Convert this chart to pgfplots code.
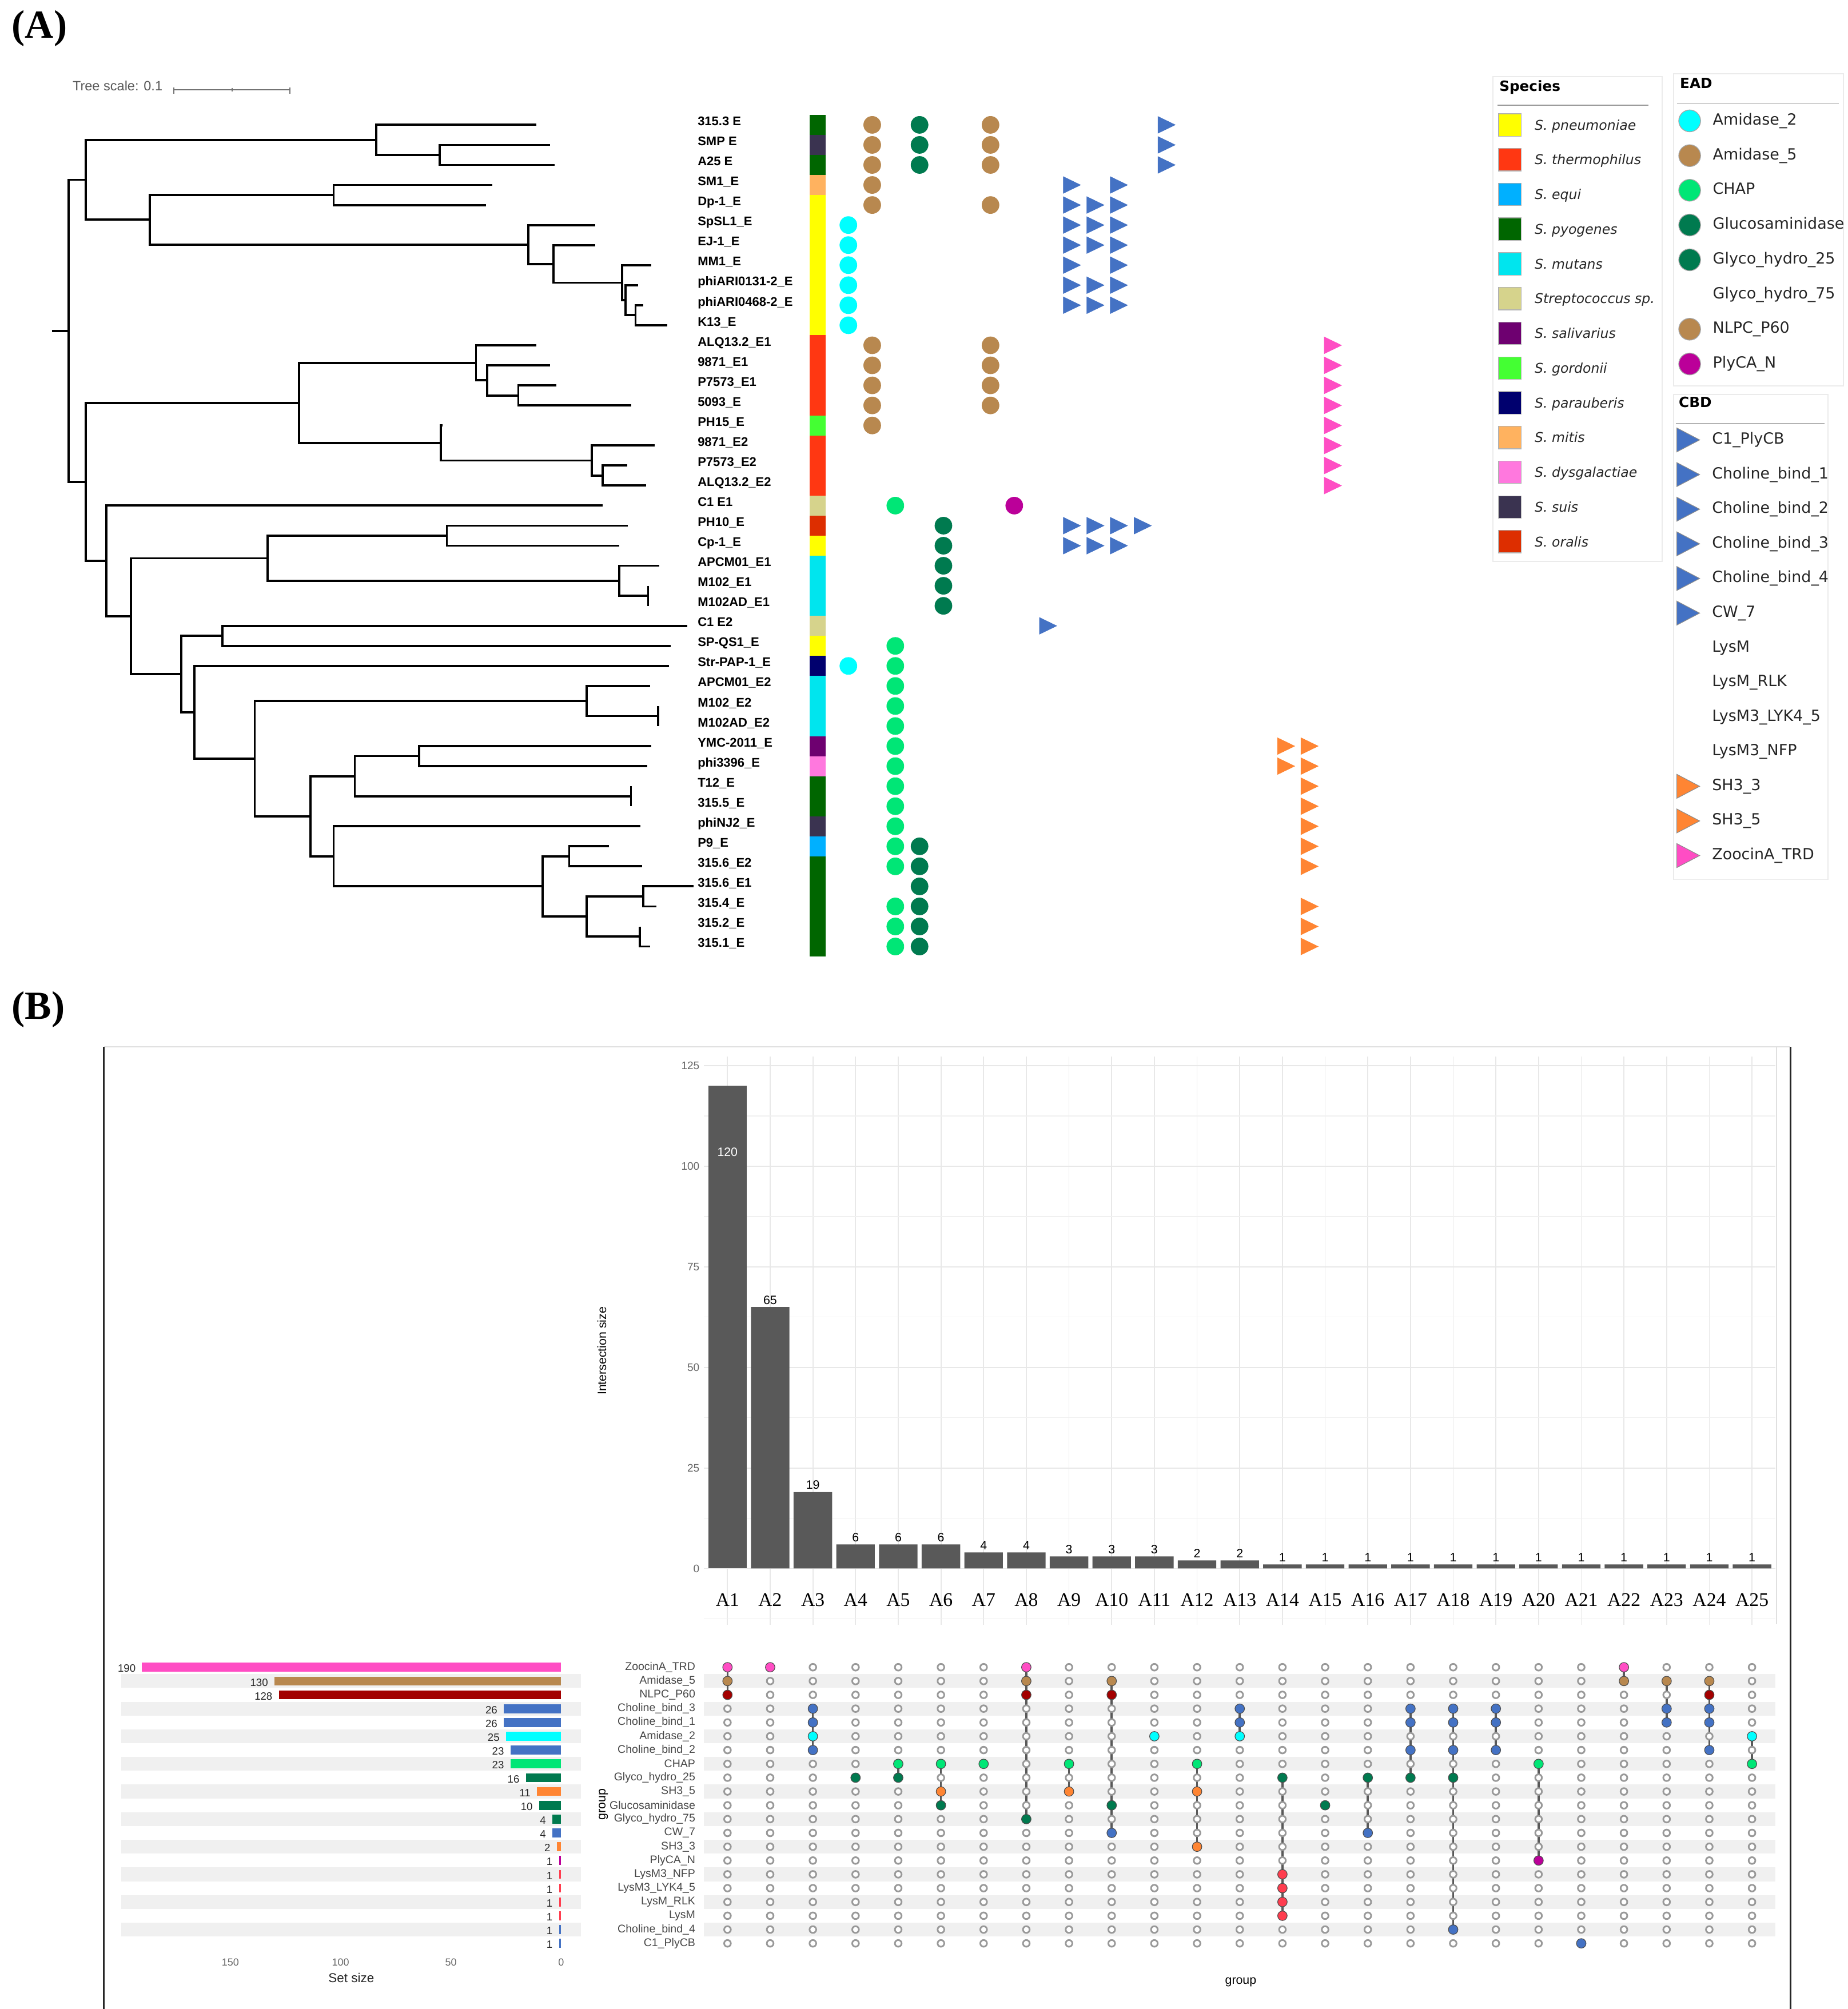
\documentclass[border=0pt]{standalone}
\usepackage{fontspec}
\setmainfont{Liberation Sans}
\newfontfamily\tnr{Liberation Serif}
\newfontfamily\djv{DejaVu Sans}
\usepackage{pgfplots}
\pgfplotsset{compat=1.18}

% species colours
\definecolor{spPyo}{HTML}{006600}
\definecolor{spSuis}{HTML}{3A3350}
\definecolor{spMitis}{HTML}{FFB25F}
\definecolor{spPneu}{HTML}{FFFF00}
\definecolor{spTherm}{HTML}{FF3712}
\definecolor{spGord}{HTML}{44FF33}
\definecolor{spStrep}{HTML}{D6D38C}
\definecolor{spOral}{HTML}{DD2E00}
\definecolor{spMut}{HTML}{00E5EE}
\definecolor{spPara}{HTML}{00006E}
\definecolor{spSal}{HTML}{6E0070}
\definecolor{spDys}{HTML}{FF78DE}
\definecolor{spEqui}{HTML}{00B0FF}
% domain colours
\definecolor{dAmi2}{HTML}{00FFFF}
\definecolor{dAmi5}{HTML}{B8884F}
\definecolor{dChap}{HTML}{00E676}
\definecolor{dGlu}{HTML}{007A4F}
\definecolor{dNlpc}{HTML}{A30000}
\definecolor{dPly}{HTML}{BB0099}
\definecolor{dBlue}{HTML}{4472C4}
\definecolor{dSh3}{HTML}{FF8533}
\definecolor{dZoo}{HTML}{FF4DC4}
\definecolor{dLys}{HTML}{FF3D4F}
\definecolor{barGray}{HTML}{595959}

\newcommand\cell[3]{\addplot[fill=#3, draw=none] coordinates {(631,#1) (643.5,#1) (643.5,#2) (631,#2)} -- cycle;}
\newcommand\sq[2]{\addplot[only marks, mark=square*, mark size=8.75pt, mark options={fill=#2, draw=black!30, line width=0.6pt}] coordinates {(1176.8,#1)};}
\newcommand\ci[2]{\addplot[only marks, mark=*, mark size=8.5pt, mark options={fill=#2, draw=black!35, line width=0.6pt}] coordinates {(1316.9,#1)};}
\newcommand\tr[2]{\addplot[only marks, mark=triangle*, mark size=10.8pt, mark options={fill=#2, draw=black!45, line width=0.5pt, xscale=1.1, rotate=-90}] coordinates {(1312.8,#1)};}
\newcommand\stripe[3]{\addplot[fill=black!6, draw=none] coordinates {(#1,#3) (#2,#3) (#2,#3+1) (#1,#3+1)} -- cycle;}
\newcommand\fd[2]{\addplot[only marks, mark=*, mark size=3.7pt, mark options={fill=#1, draw=black!70, line width=0.5pt}] coordinates {#2};}
\newcommand\sbar[3]{\addplot[xbar, bar width=7pt, bar shift=0pt, fill=#3, draw=none, nodes near coords,
  nodes near coords style={anchor=east, font=\fontsize{8.3}{9}\selectfont, text=black!85, xshift=-1.5pt, yshift=-1pt}] coordinates {(#2,#1)};}

\begin{document}
\begin{tikzpicture}[x=1pt,y=1pt]
\path[use as bounding box] (0,0) rectangle (1440,-1566);

% ---------------- panel A ----------------
\node[anchor=west, inner sep=0pt] at (9,-22) {\tnr\bfseries\fontsize{31}{31}\selectfont (A)};
\node[anchor=west, inner sep=0pt, text=black!65] at (56.4,-66.8) {\fontsize{10.5}{11}\selectfont Tree scale: 0.1};
\draw[black!55, line width=0.8pt] (135.5,-70) -- (226,-70);
\draw[black!55, line width=0.8pt] (135.5,-68) -- (135.5,-73) (226,-68) -- (226,-73) (181,-68.5) -- (181,-71.5);

\begin{axis}[at={(0pt,-81.7pt)}, anchor=north west, scale only axis,
  width=1160pt, height=671.7pt, xmin=0, xmax=1160, ymin=0, ymax=43, y dir=reverse,
  hide axis, clip=false]
% tree
\addplot[black, line width=1.7pt, unbounded coords=jump, line join=miter, mark=none] coordinates {
(428.7,2)(342.8,2)(342.8,3)(432.2,3)(nan,nan)
(418.1,1)(293.4,1)(293.4,2.5)(342.8,2.5)(nan,nan)
(383.6,4)(260,4)(260,5)(378.9,5)(nan,nan)
(501.2,10)(495.3,10)(495.3,11)(520,11)(nan,nan)
(497.3,9)(487.5,9)(487.5,10.5)(495.3,10.5)(nan,nan)
(507.5,8)(484.7,8)(484.7,9.75)(487.5,9.75)(nan,nan)
(464,7)(431.4,7)(431.4,8.875)(484.7,8.875)(nan,nan)
(464,6)(411.8,6)(411.8,7.94)(431.4,7.94)(nan,nan)
(260,4.5)(116.9,4.5)(116.9,6.97)(411.8,6.97)(nan,nan)
(293.4,1.75)(66.7,1.75)(66.7,5.73)(116.9,5.73)(nan,nan)
(433.8,14)(404,14)(404,15)(491.8,15)(nan,nan)
(428.7,13)(379.6,13)(379.6,14.5)(404,14.5)(nan,nan)
(418.1,12)(371,12)(371,13.75)(379.6,13.75)(nan,nan)
(488.7,18)(469.8,18)(469.8,19)(503.6,19)(nan,nan)
(510.2,17)(461.2,17)(461.2,18.5)(469.8,18.5)(nan,nan)
(345.1,16)(343.6,16)(343.6,17.75)(461.2,17.75)(nan,nan)
(371,12.875)(233,12.875)(233,16.875)(343.6,16.875)(nan,nan)
(489.4,21)(348.3,21)(348.3,22)(482.8,22)(nan,nan)
(505.1,24)(505.1,25)(nan,nan)
(513.8,23)(482.8,23)(482.8,24.5)(505.1,24.5)(nan,nan)
(348.3,21.5)(208.7,21.5)(208.7,23.75)(482.8,23.75)(nan,nan)
(535.7,26)(173.4,26)(173.4,27)(522.8,27)(nan,nan)
(513,30)(513,31)(nan,nan)
(506.7,29)(457.3,29)(457.3,30.5)(513,30.5)(nan,nan)
(507.5,32)(326.7,32)(326.7,33)(504.3,33)(nan,nan)
(491.8,34)(491.8,35)(nan,nan)
(326.7,32.5)(276.5,32.5)(276.5,34.5)(491.8,34.5)(nan,nan)
(474.5,37)(443.6,37)(443.6,38)(500.4,38)(nan,nan)
(540.4,39)(501.2,39)(501.2,40)(511.4,40)(nan,nan)
(498.5,41)(498.5,42)(506.7,42)(nan,nan)
(501.2,39.5)(457.3,39.5)(457.3,41.5)(498.5,41.5)(nan,nan)
(443.6,37.5)(422.8,37.5)(422.8,40.5)(457.3,40.5)(nan,nan)
(499.2,36)(260,36)(260,39)(422.8,39)(nan,nan)
(276.5,33.5)(242,33.5)(242,37.5)(260,37.5)(nan,nan)
(457.3,29.75)(198.5,29.75)(198.5,35.5)(242,35.5)(nan,nan)
(521.6,28)(151.4,28)(151.4,32.625)(198.5,32.625)(nan,nan)
(173.4,26.5)(141.2,26.5)(141.2,30.31)(151.4,30.31)(nan,nan)
(208.7,22.625)(102,22.625)(102,28.41)(141.2,28.41)(nan,nan)
(469.8,20)(82.8,20)(82.8,25.52)(102,25.52)(nan,nan)
(233,14.875)(66.7,14.875)(66.7,22.76)(82.8,22.76)(nan,nan)
(66.7,3.74)(53.4,3.74)(53.4,18.82)(66.7,18.82)(nan,nan)
(40.4,11.28)(53.4,11.28)
};
% species strip
\cell{0.5}{1.5}{spPyo}
\cell{1.5}{2.5}{spSuis}
\cell{2.5}{3.5}{spPyo}
\cell{3.5}{4.5}{spMitis}
\cell{4.5}{11.5}{spPneu}
\cell{11.5}{15.5}{spTherm}
\cell{15.5}{16.5}{spGord}
\cell{16.5}{19.5}{spTherm}
\cell{19.5}{20.5}{spStrep}
\cell{20.5}{21.5}{spOral}
\cell{21.5}{22.5}{spPneu}
\cell{22.5}{25.5}{spMut}
\cell{25.5}{26.5}{spStrep}
\cell{26.5}{27.5}{spPneu}
\cell{27.5}{28.5}{spPara}
\cell{28.5}{31.5}{spMut}
\cell{31.5}{32.5}{spSal}
\cell{32.5}{33.5}{spDys}
\cell{33.5}{35.5}{spPyo}
\cell{35.5}{36.5}{spSuis}
\cell{36.5}{37.5}{spEqui}
\cell{37.5}{42.5}{spPyo}
% EAD circles
\pgfplotsset{dot/.style={only marks, mark=*, mark size=6.65pt},
  tri/.style={only marks, mark=triangle*, mark size=7.45pt, mark options={xscale=1.19, rotate=-90}}}
\addplot[dot, dAmi2] coordinates {(661.2,6)(661.2,7)(661.2,8)(661.2,9)(661.2,10)(661.2,11)(661.2,28)};
\addplot[dot, dAmi5] coordinates {(679.8,1)(679.8,2)(679.8,3)(679.8,4)(679.8,5)(679.8,12)(679.8,13)(679.8,14)(679.8,15)(679.8,16)};
\addplot[dot, dChap] coordinates {(697.8,20)(697.8,27)(697.8,28)(697.8,29)(697.8,30)(697.8,31)(697.8,32)(697.8,33)(697.8,34)(697.8,35)(697.8,36)(697.8,37)(697.8,38)(697.8,40)(697.8,41)(697.8,42)};
\addplot[dot, dGlu] coordinates {(716.7,1)(716.7,2)(716.7,3)(716.7,37)(716.7,38)(716.7,39)(716.7,40)(716.7,41)(716.7,42)};
\addplot[dot, dGlu] coordinates {(735.3,21)(735.3,22)(735.3,23)(735.3,24)(735.3,25)};
\addplot[dot, dAmi5] coordinates {(772,1)(772,2)(772,3)(772,5)(772,12)(772,13)(772,14)(772,15)};
\addplot[dot, dPly] coordinates {(790.5,20)};
% CBD triangles
\addplot[tri, dBlue] coordinates {(833.2,4)(833.2,5)(833.2,6)(833.2,7)(833.2,8)(833.2,9)(833.2,10)(833.2,21)(833.2,22)};
\addplot[tri, dBlue] coordinates {(851.5,5)(851.5,6)(851.5,7)(851.5,9)(851.5,10)(851.5,21)(851.5,22)};
\addplot[tri, dBlue] coordinates {(869.8,4)(869.8,5)(869.8,6)(869.8,7)(869.8,8)(869.8,9)(869.8,10)(869.8,21)(869.8,22)};
\addplot[tri, dBlue] coordinates {(888.4,21)};
\addplot[tri, dBlue] coordinates {(907,1)(907,2)(907,3)};
\addplot[tri, dBlue] coordinates {(814.6,26)};
\addplot[tri, dSh3] coordinates {(1000.1,32)(1000.1,33)};
\addplot[tri, dSh3] coordinates {(1018.4,32)(1018.4,33)(1018.4,34)(1018.4,35)(1018.4,36)(1018.4,37)(1018.4,38)(1018.4,40)(1018.4,41)(1018.4,42)};
\addplot[tri, dZoo] coordinates {(1036.6,12)(1036.6,13)(1036.6,14)(1036.6,15)(1036.6,16)(1036.6,17)(1036.6,18)(1036.6,19)};
\end{axis}

% leaf labels
\foreach \n [count=\i] in {315.3 E, SMP E, A25 E, SM1\_E, Dp-1\_E, SpSL1\_E, EJ-1\_E, MM1\_E,
  phiARI0131-2\_E, phiARI0468-2\_E, K13\_E, ALQ13.2\_E1, 9871\_E1, P7573\_E1, 5093\_E, PH15\_E,
  9871\_E2, P7573\_E2, ALQ13.2\_E2, C1 E1, PH10\_E, Cp-1\_E, APCM01\_E1, M102\_E1, M102AD\_E1,
  C1 E2, SP-QS1\_E, Str-PAP-1\_E, APCM01\_E2, M102\_E2, M102AD\_E2, YMC-2011\_E, phi3396\_E,
  T12\_E, 315.5\_E, phiNJ2\_E, P9\_E, 315.6\_E2, 315.6\_E1, 315.4\_E, 315.2\_E, 315.1\_E}
  \node[anchor=west, inner sep=0pt, text height=7.1pt, text depth=0pt,
    font=\bfseries\fontsize{9.8}{10}\selectfont] at (543.6,{-(94.3+15.62*(\i-1))}) {\n};

% legends
\draw[black!8, line width=0.8pt] (1163.7,-59.6) rectangle (1295.4,-437.6);
\draw[black!8, line width=0.8pt] (1304.4,-57.6) rectangle (1436.7,-300.7);
\draw[black!8, line width=0.8pt] (1304.4,-307.6) rectangle (1424.6,-685.6);
\draw[black!40, line width=0.6pt] (1167,-82) -- (1285,-82);
\draw[black!40, line width=0.6pt] (1307,-80.3) -- (1433,-80.3);
\draw[black!40, line width=0.6pt] (1306,-329.9) -- (1422,-329.9);
\node[anchor=west, inner sep=0pt, text height=8pt, text depth=0pt] at (1168.4,-66.9) {\djv\bfseries\fontsize{11}{11}\selectfont Species};
\node[anchor=west, inner sep=0pt, text height=8pt, text depth=0pt] at (1309.2,-64.9) {\djv\bfseries\fontsize{11}{11}\selectfont EAD};
\node[anchor=west, inner sep=0pt, text height=8pt, text depth=0pt] at (1308.3,-313.7) {\djv\bfseries\fontsize{11}{11}\selectfont CBD};

\begin{axis}[at={(0pt,0pt)}, anchor=north west, scale only axis, width=1440pt, height=1566pt,
  xmin=0, xmax=1440, ymin=0, ymax=1566, y dir=reverse, hide axis, clip=false]
\sq{97.4}{spPneu}
\sq{124.5}{spTherm}
\sq{151.5}{spEqui}
\sq{178.6}{spPyo}
\sq{205.7}{spMut}
\sq{232.8}{spStrep}
\sq{259.8}{spSal}
\sq{286.9}{spGord}
\sq{314.0}{spPara}
\sq{341.0}{spMitis}
\sq{368.1}{spDys}
\sq{395.2}{spSuis}
\sq{422.2}{spOral}
\ci{94.2}{dAmi2}
\ci{121.3}{dAmi5}
\ci{148.3}{dChap}
\ci{175.4}{dGlu}
\ci{202.5}{dGlu}
\ci{256.6}{dAmi5}
\ci{283.7}{dPly}
\tr{342.9}{dBlue}
\tr{369.9}{dBlue}
\tr{396.9}{dBlue}
\tr{423.9}{dBlue}
\tr{450.9}{dBlue}
\tr{477.9}{dBlue}
\tr{612.9}{dSh3}
\tr{639.9}{dSh3}
\tr{666.9}{dZoo}
\end{axis}

\foreach \t [count=\k from 0] in {S. pneumoniae, S. thermophilus, S. equi, S. pyogenes, S. mutans,
  Streptococcus sp., S. salivarius, S. gordonii, S. parauberis, S. mitis, S. dysgalactiae, S. suis, S. oralis}
  \node[anchor=west, inner sep=0pt, text height=7.6pt, text depth=0pt, text=black!85,
    font=\djv\itshape\fontsize{10.5}{11}\selectfont] at (1196,{-(97.4+27.07*\k)}) {\t};
\foreach \t [count=\k from 0] in {Amidase\_2, Amidase\_5, CHAP, Glucosaminidase, Glyco\_hydro\_25,
  Glyco\_hydro\_75, NLPC\_P60, PlyCA\_N}
  \node[anchor=west, inner sep=0pt, text height=8.7pt, text depth=0pt, text=black!85,
    font=\djv\fontsize{12}{12}\selectfont] at (1334.8,{-(93+27.07*\k)}) {\t};
\foreach \t [count=\k from 0] in {C1\_PlyCB, Choline\_bind\_1, Choline\_bind\_2, Choline\_bind\_3,
  Choline\_bind\_4, CW\_7, LysM, LysM\_RLK, LysM3\_LYK4\_5, LysM3\_NFP, SH3\_3, SH3\_5, ZoocinA\_TRD}
  \node[anchor=west, inner sep=0pt, text height=8.7pt, text depth=0pt, text=black!85,
    font=\djv\fontsize{12}{12}\selectfont] at (1334.2,{-(341.7+27.0*\k)}) {\t};

% ---------------- panel B ----------------
\node[anchor=west, inner sep=0pt] at (9,-787) {\tnr\bfseries\fontsize{31}{31}\selectfont (B)};
\draw[black!12, line width=0.8pt] (81,-816) -- (1395.5,-816);
\draw[black!12, line width=0.8pt] (1384.5,-816) -- (1384.5,-1266);
\draw[black!85, line width=1.4pt] (81,-816) -- (81,-1566);
\draw[black!85, line width=1.4pt] (1395.5,-816) -- (1395.5,-1566);

% intersection sizes
\begin{axis}[at={(548.7pt,-823.5pt)}, anchor=north west, scale only axis,
  width=835.1pt, height=443pt, xmin=0.45, xmax=25.55, ymin=-14, ymax=127.3,
  axis line style={draw=none}, major tick length=0pt, minor tick length=0pt,
  xtick={1,...,25},
  xticklabels={A1,A2,A3,A4,A5,A6,A7,A8,A9,A10,A11,A12,A13,A14,A15,A16,A17,A18,A19,A20,A21,A22,A23,A24,A25},
  ytick={0,25,50,75,100,125}, minor ytick={-12.5,12.5,37.5,62.5,87.5,112.5},
  xmajorgrids, ymajorgrids, yminorgrids,
  major grid style={draw=black!9, line width=0.8pt},
  minor grid style={draw=black!6, line width=0.6pt},
  yticklabel style={font=\fontsize{8.5}{9}\selectfont, text=black!60},
  xticklabel style={font=\tnr\fontsize{15}{15}\selectfont, anchor=center, yshift=19.5pt},
  /pgf/number format/assume math mode=true, clip=false]
\addplot[ybar, bar width=30pt, bar shift=0pt, fill=barGray, draw=none, nodes near coords,
  nodes near coords style={font=\fontsize{9.5}{10}\selectfont, text=black, anchor=center, yshift=5.5pt}]
  coordinates {(2,65)(3,19)(4,6)(5,6)(6,6)(7,4)(8,4)(9,3)(10,3)(11,3)(12,2)(13,2)
  (14,1)(15,1)(16,1)(17,1)(18,1)(19,1)(20,1)(21,1)(22,1)(23,1)(24,1)(25,1)};
\addplot[ybar, bar width=30pt, bar shift=0pt, fill=barGray, draw=none, nodes near coords,
  nodes near coords style={font=\fontsize{9.5}{10}\selectfont, text=white, anchor=center, yshift=-51.6pt}]
  coordinates {(1,120)};
\end{axis}
\node[rotate=90, font=\fontsize{9.5}{10}\selectfont] at (469,-1053) {Intersection size};

% matrix
\begin{axis}[at={(548.7pt,-1294.2pt)}, anchor=north west, scale only axis,
  width=835.1pt, height=226pt, xmin=0.45, xmax=25.55, ymin=0.5, ymax=21.5, y dir=reverse,
  axis line style={draw=none}, major tick length=0pt, xtick=\empty,
  ytick={1,...,21},
  yticklabels={ZoocinA\_TRD, Amidase\_5, NLPC\_P60, Choline\_bind\_3, Choline\_bind\_1, Amidase\_2,
    Choline\_bind\_2, CHAP, Glyco\_hydro\_25, SH3\_5, Glucosaminidase, Glyco\_hydro\_75, CW\_7, SH3\_3,
    PlyCA\_N, LysM3\_NFP, LysM3\_LYK4\_5, LysM\_RLK, LysM, Choline\_bind\_4, C1\_PlyCB},
  yticklabel style={font=\fontsize{8.7}{9}\selectfont, text=black!72, xshift=-3.3pt}, clip=false]
\stripe{0.45}{25.55}{1.5}
\stripe{0.45}{25.55}{3.5}
\stripe{0.45}{25.55}{5.5}
\stripe{0.45}{25.55}{7.5}
\stripe{0.45}{25.55}{9.5}
\stripe{0.45}{25.55}{11.5}
\stripe{0.45}{25.55}{13.5}
\stripe{0.45}{25.55}{15.5}
\stripe{0.45}{25.55}{17.5}
\stripe{0.45}{25.55}{19.5}
\pgfplotsinvokeforeach{1,...,21}{
  \addplot[only marks, mark=*, mark size=2.6pt, mark options={draw=black!40, fill=white, line width=1.3pt}]
  coordinates {(1,#1)(2,#1)(3,#1)(4,#1)(5,#1)(6,#1)(7,#1)(8,#1)(9,#1)(10,#1)(11,#1)(12,#1)(13,#1)
  (14,#1)(15,#1)(16,#1)(17,#1)(18,#1)(19,#1)(20,#1)(21,#1)(22,#1)(23,#1)(24,#1)(25,#1)};
}
\addplot[black!65, line width=1.6pt, unbounded coords=jump, mark=none] coordinates {
(1,1)(1,3)(nan,nan)(3,4)(3,7)(nan,nan)(5,8)(5,9)(nan,nan)(6,8)(6,11)(nan,nan)
(8,1)(8,12)(nan,nan)(9,8)(9,10)(nan,nan)(10,2)(10,13)(nan,nan)(12,8)(12,14)(nan,nan)
(13,4)(13,6)(nan,nan)(14,9)(14,19)(nan,nan)(16,9)(16,13)(nan,nan)(17,4)(17,9)(nan,nan)
(18,4)(18,20)(nan,nan)(19,4)(19,7)(nan,nan)(20,8)(20,15)(nan,nan)(22,1)(22,2)(nan,nan)
(23,2)(23,5)(nan,nan)(24,2)(24,7)(nan,nan)(25,6)(25,8)};
\fd{dZoo}{(1,1)(2,1)(8,1)(22,1)}
\fd{dAmi5}{(1,2)(8,2)(10,2)(22,2)(23,2)(24,2)}
\fd{dNlpc}{(1,3)(8,3)(10,3)(24,3)}
\fd{dBlue}{(3,4)(13,4)(17,4)(18,4)(19,4)(23,4)(24,4)}
\fd{dBlue}{(3,5)(13,5)(17,5)(18,5)(19,5)(23,5)(24,5)}
\fd{dAmi2}{(3,6)(11,6)(13,6)(25,6)}
\fd{dBlue}{(3,7)(17,7)(18,7)(19,7)(24,7)}
\fd{dChap}{(5,8)(6,8)(7,8)(9,8)(12,8)(20,8)(25,8)}
\fd{dGlu}{(4,9)(5,9)(14,9)(16,9)(17,9)(18,9)}
\fd{dSh3}{(6,10)(9,10)(12,10)}
\fd{dGlu}{(6,11)(10,11)(15,11)}
\fd{dGlu}{(8,12)}
\fd{dBlue}{(10,13)(16,13)}
\fd{dSh3}{(12,14)}
\fd{dPly}{(20,15)}
\fd{dLys}{(14,16)(14,17)(14,18)(14,19)}
\fd{dBlue}{(18,20)}
\fd{dBlue}{(21,21)}
\end{axis}
\node[rotate=90, font=\fontsize{9.5}{10}\selectfont] at (470.3,-1406.6) {group};
\node[font=\fontsize{9.5}{10}\selectfont] at (967,-1545) {group};

% set sizes
\begin{axis}[at={(94.4pt,-1294.2pt)}, anchor=north west, scale only axis,
  width=358.6pt, height=226pt, xmin=-9.1, xmax=199.5, x dir=reverse,
  ymin=0.5, ymax=21.5, y dir=reverse,
  axis line style={draw=none}, major tick length=0pt, ytick=\empty, xtick={0,50,100,150},
  xticklabel style={font=\fontsize{8}{8}\selectfont, text=black!60, yshift=-3pt},
  /pgf/number format/assume math mode=true, clip=false]
\stripe{-9.1}{199.5}{1.5}
\stripe{-9.1}{199.5}{3.5}
\stripe{-9.1}{199.5}{5.5}
\stripe{-9.1}{199.5}{7.5}
\stripe{-9.1}{199.5}{9.5}
\stripe{-9.1}{199.5}{11.5}
\stripe{-9.1}{199.5}{13.5}
\stripe{-9.1}{199.5}{15.5}
\stripe{-9.1}{199.5}{17.5}
\stripe{-9.1}{199.5}{19.5}
\sbar{1}{190}{dZoo}
\sbar{2}{130}{dAmi5}
\sbar{3}{128}{dNlpc}
\sbar{4}{26}{dBlue}
\sbar{5}{26}{dBlue}
\sbar{6}{25}{dAmi2}
\sbar{7}{23}{dBlue}
\sbar{8}{23}{dChap}
\sbar{9}{16}{dGlu}
\sbar{10}{11}{dSh3}
\sbar{11}{10}{dGlu}
\sbar{12}{4}{dGlu}
\sbar{13}{4}{dBlue}
\sbar{14}{2}{dSh3}
\sbar{15}{1}{dPly}
\sbar{16}{1}{dLys}
\sbar{17}{1}{dLys}
\sbar{18}{1}{dLys}
\sbar{19}{1}{dLys}
\sbar{20}{1}{dBlue}
\sbar{21}{1}{dBlue}
\end{axis}
\node[font=\fontsize{10}{10}\selectfont, text=black!85] at (273.8,-1541.6) {Set size};
\end{tikzpicture}
\end{document}
